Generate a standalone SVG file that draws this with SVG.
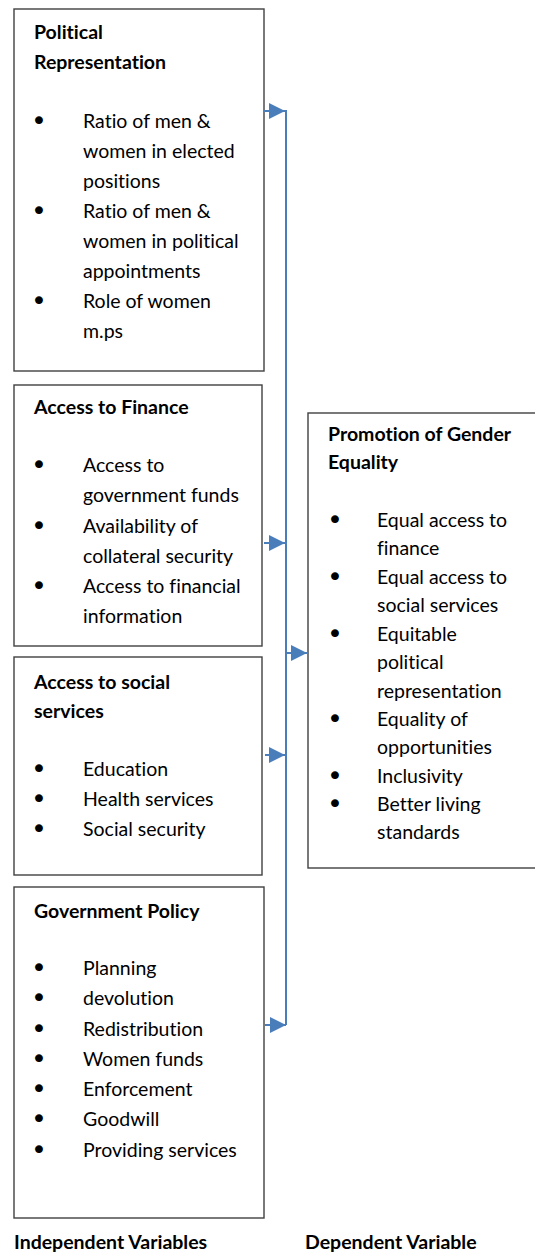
<svg xmlns="http://www.w3.org/2000/svg" width="535" height="1257" viewBox="0 0 535 1257">
<defs>
<style>
.box{fill:#fff;stroke:#404040;stroke-width:1.4}
.t{font-family:Lato,"Liberation Sans",sans-serif;font-size:19.5px;fill:#000;font-variant-ligatures:none}
.b{font-family:Lato,"Liberation Sans",sans-serif;font-size:19.5px;font-weight:bold;fill:#000;font-variant-ligatures:none}
.bl{font-family:"DejaVu Sans",sans-serif;font-size:27px;fill:#000;text-anchor:middle}
.c{stroke:#4a7ebb;stroke-width:2;fill:none}
</style>
<marker id="ah" viewBox="0 0 10 10" refX="10" refY="5" markerWidth="8" markerHeight="8" markerUnits="strokeWidth" orient="auto">
<path d="M0,0 L10,5 L0,10 z" fill="#4a7ebb"/>
</marker>
</defs>
<rect width="535" height="1257" fill="#fff"/>

<g id="political-representation">
<rect class="box" x="14" y="9" width="250" height="362"/>
<text class="b" x="34" y="39">Political</text>
<text class="b" x="34" y="69">Representation</text>
<text class="bl" x="39" y="130">•</text>
<text class="t" x="83" y="128">Ratio of men &amp;</text>
<text class="t" x="83" y="158">women in elected</text>
<text class="t" x="83" y="188">positions</text>
<text class="bl" x="39" y="220">•</text>
<text class="t" x="83" y="218">Ratio of men &amp;</text>
<text class="t" x="83" y="248">women in political</text>
<text class="t" x="83" y="278">appointments</text>
<text class="bl" x="39" y="310">•</text>
<text class="t" x="83" y="308">Role of women</text>
<text class="t" x="83" y="338">m.ps</text>
</g>

<g id="access-to-finance">
<rect class="box" x="14" y="385" width="248" height="261"/>
<text class="b" x="34" y="414">Access to Finance</text>
<text class="bl" x="39" y="474">•</text>
<text class="t" x="83" y="472">Access to</text>
<text class="t" x="83" y="502">government funds</text>
<text class="bl" x="39" y="535">•</text>
<text class="t" x="83" y="533">Availability of</text>
<text class="t" x="83" y="563">collateral security</text>
<text class="bl" x="39" y="595">•</text>
<text class="t" x="83" y="593">Access to financial</text>
<text class="t" x="83" y="623">information</text>
</g>

<g id="access-to-social-services">
<rect class="box" x="14" y="657" width="248" height="218"/>
<text class="b" x="34" y="689">Access to social</text>
<text class="b" x="34" y="718">services</text>
<text class="bl" x="39" y="778">•</text>
<text class="t" x="83" y="776">Education</text>
<text class="bl" x="39" y="808">•</text>
<text class="t" x="83" y="806">Health services</text>
<text class="bl" x="39" y="838">•</text>
<text class="t" x="83" y="836">Social security</text>
</g>

<g id="government-policy">
<rect class="box" x="14" y="887" width="250" height="331"/>
<text class="b" x="34" y="918">Government Policy</text>
<text class="bl" x="39" y="977">•</text>
<text class="t" x="83" y="975">Planning</text>
<text class="bl" x="39" y="1007">•</text>
<text class="t" x="83" y="1005">devolution</text>
<text class="bl" x="39" y="1038">•</text>
<text class="t" x="83" y="1036">Redistribution</text>
<text class="bl" x="39" y="1068">•</text>
<text class="t" x="83" y="1066">Women funds</text>
<text class="bl" x="39" y="1098">•</text>
<text class="t" x="83" y="1096">Enforcement</text>
<text class="bl" x="39" y="1128">•</text>
<text class="t" x="83" y="1126">Goodwill</text>
<text class="bl" x="39" y="1159">•</text>
<text class="t" x="83" y="1157">Providing services</text>
</g>

<g id="promotion-of-gender-equality">
<rect class="box" x="308" y="413" width="240" height="455"/>
<text class="b" x="328" y="441">Promotion of Gender</text>
<text class="b" x="328" y="469">Equality</text>
<text class="bl" x="335" y="529">•</text>
<text class="t" x="377" y="527">Equal access to</text>
<text class="t" x="377" y="555">finance</text>
<text class="bl" x="335" y="586">•</text>
<text class="t" x="377" y="584">Equal access to</text>
<text class="t" x="377" y="612">social services</text>
<text class="bl" x="335" y="643">•</text>
<text class="t" x="377" y="641">Equitable</text>
<text class="t" x="377" y="669">political</text>
<text class="t" x="377" y="698">representation</text>
<text class="bl" x="335" y="728">•</text>
<text class="t" x="377" y="726">Equality of</text>
<text class="t" x="377" y="754">opportunities</text>
<text class="bl" x="335" y="785">•</text>
<text class="t" x="377" y="783">Inclusivity</text>
<text class="bl" x="335" y="813">•</text>
<text class="t" x="377" y="811">Better living</text>
<text class="t" x="377" y="839">standards</text>
</g>

<g id="connectors">
<line class="c" x1="286" y1="110" x2="286" y2="1025"/>
<line class="c" x1="264" y1="111" x2="285" y2="111" marker-end="url(#ah)"/>
<line class="c" x1="264" y1="543" x2="285" y2="543" marker-end="url(#ah)"/>
<line class="c" x1="265" y1="755" x2="285" y2="755" marker-end="url(#ah)"/>
<line class="c" x1="265" y1="1025" x2="286" y2="1025" marker-end="url(#ah)"/>
<line class="c" x1="286" y1="653" x2="307" y2="653" marker-end="url(#ah)"/>
</g>

<g id="labels">
<text class="b" x="14" y="1249">Independent Variables</text>
<text class="b" x="305" y="1249">Dependent Variable</text>
</g>
</svg>
